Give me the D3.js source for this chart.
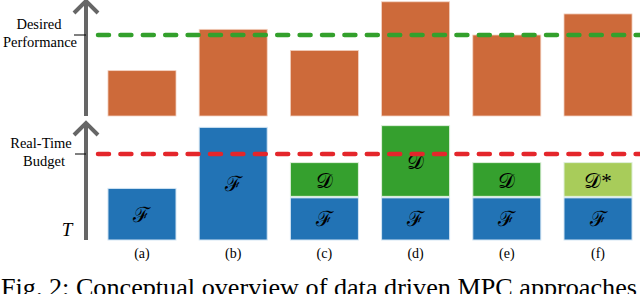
<!DOCTYPE html>
<html>
<head>
<meta charset="utf-8">
<script src="https://cdn.jsdelivr.net/npm/d3@7/dist/d3.min.js"></script>
<style>
  body { margin: 0; background: #fff; }
  svg text { font-family: "Liberation Serif", "DejaVu Serif", serif; }
</style>
</head>
<body>
<svg width="640" height="294"></svg>
<script>
// data (relative units: desired performance = 1, real-time budget = 1)
const categories = ['(a)', '(b)', '(c)', '(d)', '(e)', '(f)'];
const performance = [0.56, 1.07, 0.81, 1.41, 1.0, 1.26];
const desiredPerformance = 1.0;
const fTime = [0.6, 1.31, 0.49, 0.49, 0.49, 0.49];
const dTime = [0, 0, 0.41, 0.84, 0.41, 0.41];
const dLabels = ['', '', '\u{1D49F}', '\u{1D49F}', '\u{1D49F}', '\u{1D49F}*'];
const dKind = ['', '', 'D', 'D', 'D', 'Dstar'];
const budget = 1.0;

const svg = d3.select('svg');
const width = +svg.attr('width');

const colors = {perf: '#cd6a3a', F: '#2273b5', D: '#35a02e', Dstar: '#a8cc5a', axis: '#666666'};

const x = d3.scaleBand()
    .domain(categories)
    .range([84.8, 655.2])
    .padding(0.254);

// top panel: performance
const yTop = d3.scaleLinear().domain([0, desiredPerformance]).range([116, 35]);
// bottom panel: computation time
const yBot = d3.scaleLinear().domain([0, budget]).range([240, 154]);

//----------------------------- top bars -----------------------------//
svg.append('g').selectAll('rect')
    .data(performance)
    .enter()
    .append('rect')
    .attr('x', (d, i) => x(categories[i]))
    .attr('y', d => yTop(d))
    .attr('width', x.bandwidth())
    .attr('height', d => yTop(0) - yTop(d))
    .attr('fill', colors.perf)
    .attr('stroke', '#f3d2c2')
    .attr('stroke-width', 0.8);

//----------------------------- bottom stacked bars -----------------------------//
const gF = svg.append('g');
gF.selectAll('rect')
    .data(fTime)
    .enter()
    .append('rect')
    .attr('x', (d, i) => x(categories[i]))
    .attr('y', d => yBot(d))
    .attr('width', x.bandwidth())
    .attr('height', d => yBot(0) - yBot(d))
    .attr('fill', colors.F)
    .attr('stroke', '#d4e6f4')
    .attr('stroke-width', 1);

gF.selectAll('text')
    .data(fTime)
    .enter()
    .append('text')
    .attr('x', (d, i) => x(categories[i]) + x.bandwidth() / 2)
    .attr('y', d => (yBot(0) + yBot(d)) / 2)
    .attr('dy', '0.35em')
    .attr('text-anchor', 'middle')
    .style('font-family', '"DejaVu Serif", serif')
    .style('font-size', '21px')
    .text('\u2131');

const dData = dTime.map((d, i) => ({i: i, base: fTime[i], v: d})).filter(d => d.v > 0);
const gD = svg.append('g');
gD.selectAll('rect')
    .data(dData)
    .enter()
    .append('rect')
    .attr('x', d => x(categories[d.i]))
    .attr('y', d => yBot(d.base + d.v))
    .attr('width', x.bandwidth())
    .attr('height', d => yBot(d.base) - yBot(d.base + d.v) - 1.5)
    .attr('fill', d => colors[dKind[d.i]])
    .attr('stroke', '#dff0dc')
    .attr('stroke-width', 1);

gD.selectAll('text')
    .data(dData)
    .enter()
    .append('text')
    .attr('x', d => x(categories[d.i]) + x.bandwidth() / 2)
    .attr('y', d => (yBot(d.base) + yBot(d.base + d.v)) / 2)
    .attr('dy', '0.35em')
    .attr('text-anchor', 'middle')
    .style('font-size', '21px')
    .text(d => dLabels[d.i]);

//----------------------------- reference lines -----------------------------//
svg.append('line')
    .attr('x1', 98).attr('x2', width)
    .attr('y1', yTop(desiredPerformance)).attr('y2', yTop(desiredPerformance))
    .attr('stroke', '#33a02c')
    .attr('stroke-width', 4.5)
    .attr('stroke-linecap', 'round')
    .attr('stroke-dasharray', '11,11.4');

svg.append('line')
    .attr('x1', 98).attr('x2', width)
    .attr('y1', yBot(budget)).attr('y2', yBot(budget))
    .attr('stroke', '#e4262b')
    .attr('stroke-width', 4.5)
    .attr('stroke-linecap', 'round')
    .attr('stroke-dasharray', '11,11.4');

//----------------------------- axes (arrows) -----------------------------//
function arrowAxis(top, bottom) {
    const g = svg.append('g')
        .attr('stroke', colors.axis)
        .attr('stroke-width', 4)
        .attr('fill', 'none');
    g.append('line').attr('x1', 86).attr('x2', 86).attr('y1', top + 1).attr('y2', bottom);
    g.append('path')
        .attr('d', `M74,${top + 13}L86,${top + 1}L98,${top + 13}`)
        .attr('stroke-linejoin', 'miter');
}
arrowAxis(0, 116);
arrowAxis(122, 240);

// small ticks
svg.append('line').attr('x1', 74).attr('x2', 86)
    .attr('y1', yTop(desiredPerformance)).attr('y2', yTop(desiredPerformance))
    .attr('stroke', '#000').attr('stroke-width', 1);
svg.append('line').attr('x1', 75).attr('x2', 86)
    .attr('y1', yBot(budget)).attr('y2', yBot(budget))
    .attr('stroke', '#000').attr('stroke-width', 1);

//----------------------------- texts -----------------------------//
svg.append('text').attr('x', 39).attr('y', 29).attr('text-anchor', 'middle')
    .style('font-size', '14.5px').text('Desired');
svg.append('text').attr('x', 40).attr('y', 47).attr('text-anchor', 'middle')
    .style('font-size', '14.5px').text('Performance');
svg.append('text').attr('x', 41).attr('y', 148).attr('text-anchor', 'middle')
    .style('font-size', '14.5px').text('Real-Time');
svg.append('text').attr('x', 44).attr('y', 166).attr('text-anchor', 'middle')
    .style('font-size', '14.5px').text('Budget');
svg.append('text').attr('x', 67).attr('y', 236).attr('text-anchor', 'middle')
    .style('font-size', '19px').style('font-style', 'italic').text('T');

svg.append('g').selectAll('text')
    .data(categories)
    .enter()
    .append('text')
    .attr('x', d => x(d) + x.bandwidth() / 2)
    .attr('y', 258)
    .attr('text-anchor', 'middle')
    .style('font-size', '14px')
    .text(d => d);

svg.append('text')
    .attr('x', 1)
    .attr('y', 296)
    .attr('textLength', 636)
    .attr('lengthAdjust', 'spacingAndGlyphs')
    .style('font-size', '25px')
    .text('Fig. 2: Conceptual overview of data driven MPC approaches');
</script>
</body>
</html>
